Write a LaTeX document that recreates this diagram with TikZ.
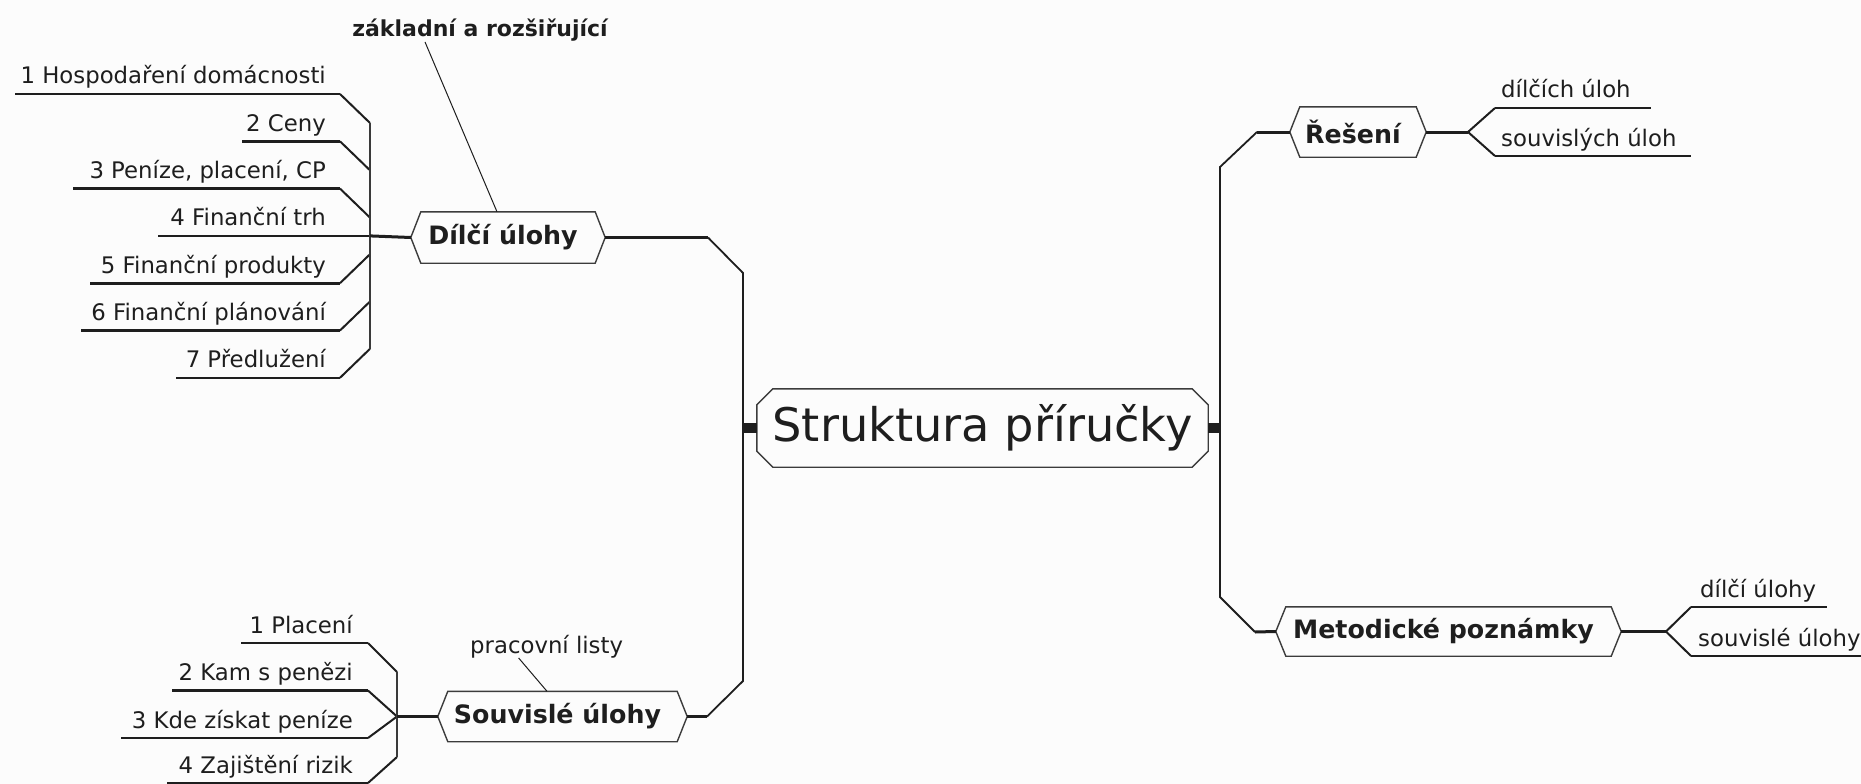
\documentclass[tikz,border=0pt]{standalone}
\usepackage{fontspec}
\setmainfont{DejaVu Sans}
\definecolor{ink}{HTML}{1E1E1E}
\definecolor{bordercol}{HTML}{3C3C3C}
\definecolor{spinecol}{HTML}{3A3A3A}
\definecolor{bg}{HTML}{FCFCFC}
\begin{document}
\begin{tikzpicture}[x=1pt,y=-1pt,
  txt/.style={inner sep=0pt, text=ink, font=\fontsize{22.8}{26}\selectfont},
  lbl/.style={inner sep=0pt, text=ink, font=\bfseries\fontsize{22}{26}\selectfont},
  box/.style={inner sep=0pt, text=ink, font=\bfseries\fontsize{25.3}{30}\selectfont},
  central/.style={inner sep=0pt, text=ink, font=\fontsize{46.3}{55}\selectfont},
  under/.style={draw=ink, line width=2.6pt},
  diag/.style={draw=ink, line width=2pt},
  spine/.style={draw=spinecol, line width=1.5pt},
  border/.style={draw=bordercol, line width=1.4pt, line join=miter},
  mainconn/.style={draw=ink, line width=3pt},
  trunk/.style={draw=ink, line width=1.8pt, line join=miter},
  thinconn/.style={draw=ink, line width=1pt},
  stub/.style={draw=ink, line width=10pt}
]
\useasboundingbox (0,0) rectangle (1861,784);
\fill[bg] (0,0) rectangle (1861,784);

% ---------- Dílčí úlohy group ----------
\foreach \k/\t/\xs/\dy in {1/{1 Hospodaření domácnosti}/15/29,
                          2/{2 Ceny}/242/29,
                          3/{3 Peníze, placení, CP}/73/29,
                          4/{4 Finanční trh}/158/0,
                          5/{5 Finanční produkty}/90/-29,
                          6/{6 Finanční plánování}/81/-29,
                          7/{7 Předlužení}/176/-29}{
  \pgfmathsetmacro\yy{94+47.3*(\k-1)}
  \node[txt, anchor=base east] (L\k) at (326,\yy-10) {\t};
  \coordinate (Ls\k) at (\xs,\yy);
  \coordinate (Le\k) at (340,\yy);
  \coordinate (Lj\k) at (370,\yy+\dy);
  \draw[under] (Ls\k) -- (Le\k);
  \draw[diag] (Le\k) -- (Lj\k);
}
\draw[spine] (Lj1) -- (Lj7);

\node[box, minimum width=174pt, minimum height=51pt] (D) at (508,237.5) {Dílčí úlohy\kern10pt};
\draw[border] ([xshift=-10pt]D.west) -- (D.north west) -- (D.north east) -- ([xshift=10pt]D.east) -- (D.south east) -- (D.south west) -- cycle;
\draw[mainconn] (Lj4) -- ([xshift=-10pt]D.west);

\node[lbl, anchor=base] (Z) at (480,37) {základní a rozšiřující};
\draw[thinconn] ([xshift=-55pt]Z.south) -- ([xshift=-11pt]D.north);

% ---------- central node ----------
\node[central, minimum width=451pt, minimum height=78pt] (C) at (982.5,428) {Struktura příručky};
\draw[border] ([xshift=16pt]C.north west) -- ([xshift=-16pt]C.north east) -- ([yshift=-16pt]C.north east)
  -- ([yshift=16pt]C.south east) -- ([xshift=-16pt]C.south east) -- ([xshift=16pt]C.south west)
  -- ([yshift=16pt]C.south west) -- ([yshift=-16pt]C.north west) -- cycle;

% left trunk
\coordinate (t1) at (708,237.5);
\coordinate (t2) at (743,273);
\coordinate (tl) at (743,428);
\coordinate (t3) at (743,681);
\coordinate (t4) at (707,716.5);
\draw[mainconn] ([xshift=10pt]D.east) -- (t1);
\draw[trunk] (t1) -- (t2) -- (t3) -- (t4);
\draw[stub] (tl) -- (C.west);

% ---------- Souvislé úlohy group ----------
\node[box, minimum width=229pt, minimum height=50pt] (S) at (562.5,716.5) {Souvislé úlohy\kern10pt};
\draw[border] ([xshift=-10pt]S.west) -- (S.north west) -- (S.north east) -- ([xshift=10pt]S.east) -- (S.south east) -- (S.south west) -- cycle;
\draw[mainconn] (t4) -- ([xshift=10pt]S.east);

\node[txt, anchor=base west] (P) at (470,653) {pracovní listy};
\draw[thinconn] ([xshift=-28pt]P.south) -- ([xshift=-15.5pt]S.north);

\foreach \k/\t/\xs/\yy/\yj in {1/{1 Placení}/241/643/672,
                              2/{2 Kam s penězi}/172/690.5/716.5,
                              3/{3 Kde získat peníze}/121/738/716.5,
                              4/{4 Zajištění rizik}/167/783/757}{
  \node[txt, anchor=base east] (B\k) at (353,\yy-10) {\t};
  \coordinate (Bs\k) at (\xs,\yy);
  \coordinate (Be\k) at (368,\yy);
  \coordinate (Bj\k) at (397,\yj);
  \draw[under] (Bs\k) -- (Be\k);
  \draw[diag] (Be\k) -- (Bj\k);
}
\draw[spine] (Bj1) -- (Bj4);
\draw[mainconn] (Bj2) -- ([xshift=-10pt]S.west);

% ---------- right trunk ----------
\coordinate (tr) at (1221,428);
\coordinate (r1) at (1257,132);
\coordinate (r2) at (1220,167);
\coordinate (r3) at (1220,597);
\coordinate (r4) at (1255,632);
\draw[stub] (C.east) -- (tr);
\draw[trunk] (r1) -- (r2) -- (r3) -- (r4);

% ---------- Řešení ----------
\node[box, minimum width=116pt, minimum height=50pt] (R) at (1358,132) {Řešení\kern10pt};
\draw[border] ([xshift=-10pt]R.west) -- (R.north west) -- (R.north east) -- ([xshift=10pt]R.east) -- (R.south east) -- (R.south west) -- cycle;
\draw[mainconn] (r1) -- ([xshift=-10pt]R.west);
\coordinate (rj) at (1468,132);
\coordinate (ra1) at (1495,108);
\coordinate (ra2) at (1651,108);
\coordinate (rb1) at (1495,156);
\coordinate (rb2) at (1691,156);
\draw[mainconn] ([xshift=10pt]R.east) -- (rj);
\draw[diag] (rj) -- (ra1);
\draw[diag] (rj) -- (rb1);
\draw[under] (ra1) -- (ra2);
\draw[under] (rb1) -- (rb2);
\node[txt, anchor=base west] (R1) at (1501,98) {dílčích úloh};
\node[txt, anchor=base west] (R2) at (1501,146) {souvislých úloh};

% ---------- Metodické poznámky ----------
\node[box, minimum width=325pt, minimum height=49pt] (M) at (1448.5,631.5) {Metodické poznámky\kern10pt};
\draw[border] ([xshift=-10pt]M.west) -- (M.north west) -- (M.north east) -- ([xshift=10pt]M.east) -- (M.south east) -- (M.south west) -- cycle;
\draw[mainconn] (r4) -- ([xshift=-10pt]M.west);
\coordinate (mj) at (1666,631.5);
\coordinate (ma1) at (1691,607);
\coordinate (ma2) at (1827,607);
\coordinate (mb1) at (1691,656);
\coordinate (mb2) at (1866,656);
\draw[mainconn] ([xshift=10pt]M.east) -- (mj);
\draw[diag] (mj) -- (ma1);
\draw[diag] (mj) -- (mb1);
\draw[under] (ma1) -- (ma2);
\draw[under] (mb1) -- (mb2);
\node[txt, anchor=base west] (M1) at (1700,597) {dílčí úlohy};
\node[txt, anchor=base west] (M2) at (1698,646) {souvislé úlohy};
\end{tikzpicture}
\end{document}
